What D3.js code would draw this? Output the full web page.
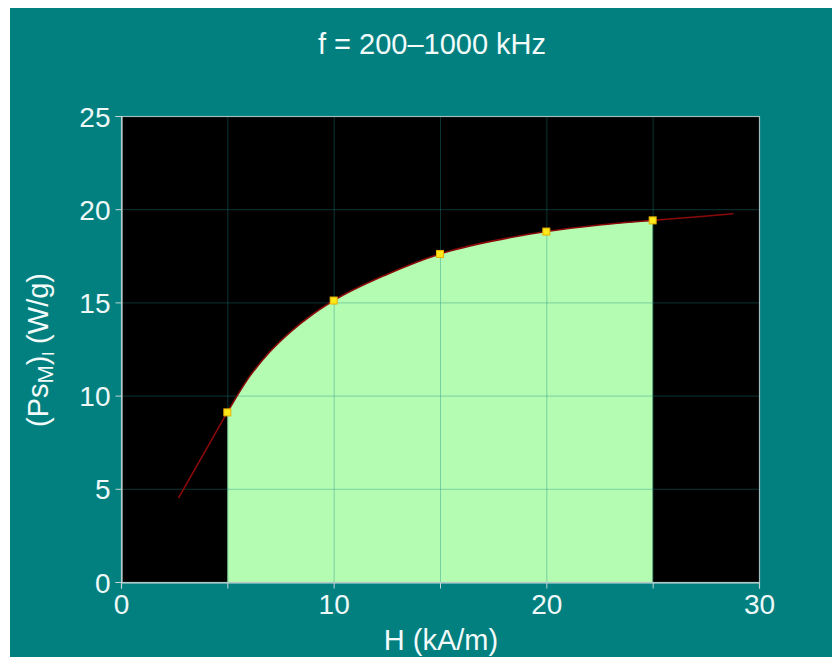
<!DOCTYPE html>
<html>
<head>
<meta charset="utf-8">
<script src="https://cdn.jsdelivr.net/npm/d3@7"></script>
<style>
  html, body { margin: 0; padding: 0; background: #ffffff; }
  svg { display: block; }
  text { font-family: "Liberation Sans", Arial, sans-serif; }
</style>
</head>
<body>
<svg id="chart" width="832" height="657"></svg>
<script>
// ---- data ----
const curveH = [2.7, 4.0, 5, 6, 7, 8, 9, 10, 12.5, 15, 17.5, 20, 22.5, 25, 27, 28.8];
const curveP = [4.5, 7.1, 9.1, 10.95, 12.35, 13.45, 14.35, 15.1, 16.5, 17.6, 18.3, 18.8, 19.15, 19.4, 19.58, 19.76];
const pointH = [5, 10, 15, 20, 25];
const pointP = [9.1, 15.1, 17.6, 18.8, 19.4];
const fillRange = [5, 25];
const xTicks = [0, 5, 10, 15, 20, 25, 30];
const xTickLabels = [0, 10, 20, 30];
const yTicks = [0, 5, 10, 15, 20, 25];
const xGrid = [5, 10, 15, 20, 25];
const yGrid = [5, 10, 15, 20];
const titleText = "f = 200\u20131000 kHz";
const xTitle = "H (kA/m)";

// ---- layout ----
const W = 832, H = 657;
const plot = { left: 121, right: 759, top: 116, bottom: 582 };

const svg = d3.select("#chart");
svg.append("rect").attr("x", 10).attr("y", 8).attr("width", W - 10).attr("height", H - 8).attr("fill", "#01807f");

const x = d3.scaleLinear().domain([0, 30]).range([plot.left, plot.right]);
const y = d3.scaleLinear().domain([0, 25]).range([plot.bottom, plot.top]);

// plot background
svg.append("rect")
  .attr("x", plot.left).attr("y", plot.top)
  .attr("width", plot.right - plot.left).attr("height", plot.bottom - plot.top)
  .attr("fill", "#000000");

const curve = curveH.map((h, i) => ({ h, p: curveP[i] }));
const fillData = curve.filter(d => d.h >= fillRange[0] && d.h <= fillRange[1]);

// filled area
svg.append("path")
  .datum(fillData)
  .attr("fill", "#b4fcb2")
  .attr("d", d3.area().x(d => x(d.h)).y0(y(0)).y1(d => y(d.p)).curve(d3.curveMonotoneX));

// grid
const g = svg.append("g").attr("stroke", "#1b8a84").attr("stroke-opacity", 0.38).attr("stroke-width", 1);
g.selectAll(".vg").data(xGrid).join("line")
  .attr("x1", d => x(d) + 0.5).attr("x2", d => x(d) + 0.5)
  .attr("y1", plot.top).attr("y2", plot.bottom);
g.selectAll(".hg").data(yGrid).join("line")
  .attr("y1", d => y(d) + 0.5).attr("y2", d => y(d) + 0.5)
  .attr("x1", plot.left).attr("x2", plot.right);

// curve
svg.append("path")
  .datum(curve)
  .attr("fill", "none")
  .attr("stroke", "#8a0a0a")
  .attr("stroke-width", 1.6)
  .attr("d", d3.line().x(d => x(d.h)).y(d => y(d.p)).curve(d3.curveMonotoneX));

// frame
svg.append("rect")
  .attr("x", plot.left + 0.5).attr("y", plot.top + 0.5)
  .attr("width", plot.right - plot.left).attr("height", plot.bottom - plot.top)
  .attr("fill", "none").attr("stroke", "#9fbcbc").attr("stroke-width", 1.2);

// axes
const xAxis = d3.axisBottom(x).tickValues(xTicks).tickSize(6)
  .tickFormat(d => xTickLabels.includes(d) ? d : "");
const xg = svg.append("g").attr("transform", `translate(0,${plot.bottom + 0.5})`).call(xAxis);
const yAxis = d3.axisLeft(y).tickValues(yTicks).tickSize(6).tickPadding(5);
const yg = svg.append("g").attr("transform", `translate(${plot.left + 0.5},0)`).call(yAxis);
[xg, yg].forEach(a => {
  a.select(".domain").attr("stroke", "#c4d6d6").attr("stroke-width", 1.2);
  a.selectAll(".tick line").attr("stroke", "#c4d6d6");
  a.selectAll(".tick text").attr("fill", "#eef8f8").attr("font-size", 28)
    .attr("font-family", "'Liberation Sans', Arial, sans-serif");
});
xg.selectAll(".tick text").attr("dy", "0.95em").attr("y", 5);
yg.selectAll(".tick text").attr("dy", "0.36em");

// points
svg.selectAll(".pt").data(pointH.map((h, i) => ({ h, p: pointP[i] }))).join("rect")
  .attr("x", d => x(d.h) - 3.5).attr("y", d => y(d.p) - 3.5)
  .attr("width", 7).attr("height", 7)
  .attr("fill", "#ffe81a").attr("stroke", "#e8b000").attr("stroke-width", 1);

// titles
svg.append("text").attr("x", 432).attr("y", 54).attr("text-anchor", "middle")
  .attr("fill", "#f2fafa").attr("font-size", 29).text(titleText);
svg.append("text").attr("x", 441).attr("y", 650).attr("text-anchor", "middle")
  .attr("fill", "#f2fafa").attr("font-size", 29).text(xTitle);

const yt = svg.append("text")
  .attr("transform", "translate(48,350) rotate(-90)")
  .attr("text-anchor", "middle").attr("fill", "#f2fafa").attr("font-size", 29);
yt.append("tspan").text("(Ps");
yt.append("tspan").attr("font-size", 22).attr("dy", 5).text("M");
yt.append("tspan").attr("dy", -5).text(")");
yt.append("tspan").attr("font-size", 16).attr("dy", 6).text("l");
yt.append("tspan").attr("dy", -6).text(" (W/g)");
</script>
</body>
</html>
